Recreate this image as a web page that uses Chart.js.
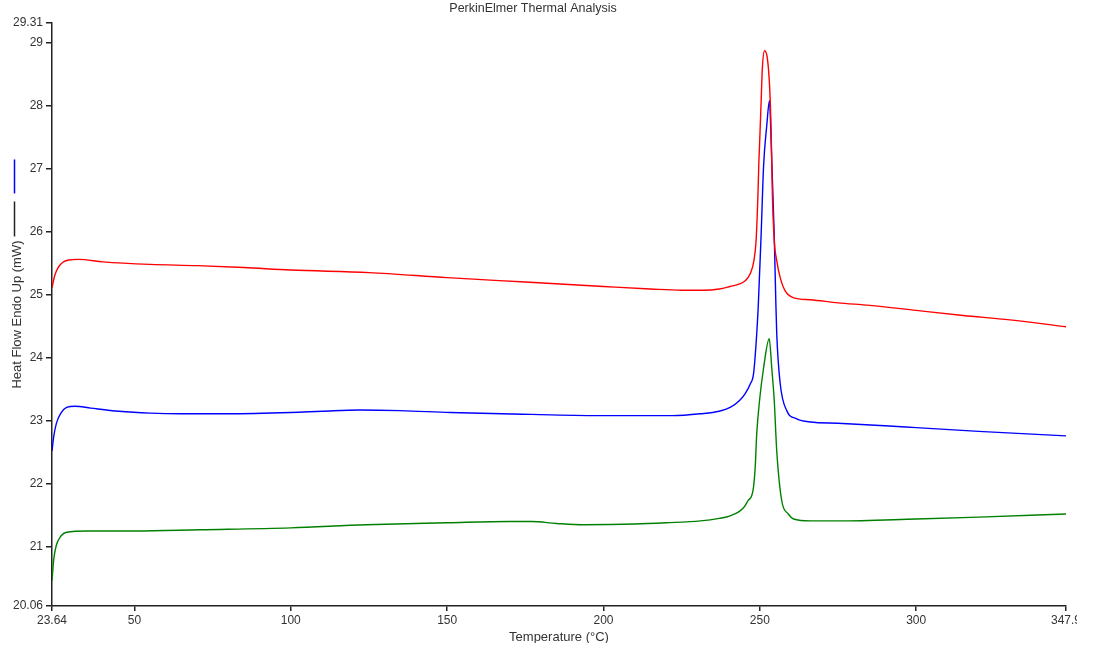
<!DOCTYPE html>
<html lang="en">
<head>
    <meta charset="UTF-8">
    <title>PerkinElmer Thermal Analysis</title>
    <script src="https://cdn.jsdelivr.net/npm/chart.js"></script>
    <style>
        body {
            margin: 0;
            background: #fff;
        }
        .clip {
            width: 1077px;
            height: 643px;
            overflow: hidden;
        }
    </style>
</head>
<body>
    <div class="clip">
        <canvas id="dsc" width="1093" height="649"></canvas>
    </div>

    <script>
        const redTemp = [23.64, 24.5, 25.5, 27, 29, 32, 40, 55, 70, 85, 100, 125, 150, 175, 200, 215, 225, 232, 237, 240.5, 243.5, 245.3, 246.9, 248.1, 248.8, 249.4, 249.7, 249.9, 250.4, 250.8, 251.5, 252.4, 253.1, 253.5, 253.8, 254.0, 254.6, 255.4, 256.5, 258.1, 260.8, 266.1, 275, 285, 300, 315, 330, 347.9];
        const redFlow = [25.11, 25.30, 25.42, 25.51, 25.55, 25.56, 25.52, 25.48, 25.46, 25.43, 25.39, 25.35, 25.27, 25.20, 25.13, 25.09, 25.07, 25.07, 25.09, 25.13, 25.17, 25.22, 25.33, 25.54, 25.86, 26.60, 27.13, 27.37, 28.05, 28.59, 28.87, 28.75, 28.32, 27.79, 27.13, 26.60, 25.86, 25.54, 25.27, 25.06, 24.95, 24.92, 24.87, 24.83, 24.75, 24.67, 24.60, 24.49];

        const blueTemp = [23.64, 24.2, 25, 26.5, 28.3, 31, 36, 45, 55, 65, 80, 100, 110, 122, 135, 151, 177, 200, 222, 231, 237, 240.5, 243.5, 245.3, 246.9, 248.0, 249.0, 249.5, 250.4, 251.2, 252.2, 253.1, 253.4, 253.8, 254.6, 255.1, 255.4, 256.5, 258.6, 261.8, 266.1, 275, 290, 300, 320, 347.9];
        const blueFlow = [22.52, 22.75, 22.95, 23.12, 23.21, 23.23, 23.20, 23.15, 23.12, 23.11, 23.11, 23.13, 23.15, 23.17, 23.16, 23.13, 23.10, 23.08, 23.08, 23.11, 23.15, 23.21, 23.32, 23.43, 23.58, 23.75, 24.38, 24.83, 25.94, 27.05, 27.68, 28.08, 27.76, 27.13, 25.94, 24.90, 24.38, 23.59, 23.16, 23.03, 22.98, 22.96, 22.92, 22.89, 22.83, 22.76];

        const greenTemp = [23.64, 24.2, 25, 26.5, 28.3, 35, 50, 71, 100, 124, 150, 170, 177, 185, 193.5, 210, 220, 231, 237, 240.5, 244.8, 246.2, 247.8, 248.5, 249.0, 249.9, 251.2, 253.0, 253.8, 254.6, 255.4, 257.0, 259.1, 260.8, 266.1, 275, 300, 320, 347.9];
        const greenFlow = [20.46, 20.80, 21.02, 21.17, 21.23, 21.25, 21.25, 21.27, 21.30, 21.35, 21.38, 21.40, 21.40, 21.37, 21.35, 21.36, 21.38, 21.41, 21.45, 21.49, 21.62, 21.73, 21.89, 22.25, 22.79, 23.32, 23.84, 24.30, 23.84, 23.32, 22.52, 21.73, 21.52, 21.44, 21.41, 21.41, 21.44, 21.47, 21.52];

        const xTicks = [23.64, 50, 100, 150, 200, 250, 300, 347.9];
        const yTicks = [20.06, 21, 22, 23, 24, 25, 26, 27, 28, 29, 29.31];

        const fontFamily = '"Liberation Sans", Arial, sans-serif';
        const inkColor = '#333';
        const titleSize = 13;

        function toPoints(xs, ys) {
            return xs.map((x, i) => ({ x: x, y: ys[i] }));
        }

        // little legend strokes drawn beside the y axis title, like the instrument export
        const axisMarks = {
            id: 'axisMarks',
            afterDraw(chart) {
                const { ctx, chartArea } = chart;
                const yScale = chart.scales.y;
                ctx.save();
                ctx.font = titleSize + 'px ' + fontFamily;
                const half = ctx.measureText(yScale.options.title.text).width / 2;
                const top = (chartArea.top + chartArea.bottom) / 2 - half;
                const x = yScale.left + 14.5;
                ctx.lineWidth = 1.5;
                ctx.strokeStyle = '#222';
                ctx.beginPath();
                ctx.moveTo(x, top - 4);
                ctx.lineTo(x, top - 39);
                ctx.stroke();
                ctx.strokeStyle = '#0000ff';
                ctx.beginPath();
                ctx.moveTo(x, top - 47);
                ctx.lineTo(x, top - 81);
                ctx.stroke();
                ctx.restore();
            }
        };

        const ctx = document.getElementById('dsc').getContext('2d');
        new Chart(ctx, {
            type: 'line',
            data: {
                datasets: [{
                    data: toPoints(redTemp, redFlow),
                    borderColor: '#ff0000',
                    borderWidth: 1.4,
                    pointRadius: 0,
                    cubicInterpolationMode: 'monotone'
                }, {
                    data: toPoints(blueTemp, blueFlow),
                    borderColor: '#0000ff',
                    borderWidth: 1.4,
                    pointRadius: 0,
                    cubicInterpolationMode: 'monotone'
                }, {
                    data: toPoints(greenTemp, greenFlow),
                    borderColor: '#008000',
                    borderWidth: 1.4,
                    pointRadius: 0,
                    cubicInterpolationMode: 'monotone'
                }]
            },
            options: {
                responsive: false,
                animation: false,
                layout: {
                    padding: { left: 0, right: 27, top: 0, bottom: 0 }
                },
                plugins: {
                    legend: { display: false },
                    tooltip: { enabled: false },
                    title: {
                        display: true,
                        text: 'PerkinElmer Thermal Analysis',
                        color: inkColor,
                        font: { family: fontFamily, size: 12.5, weight: 'normal' },
                        padding: { top: 1, bottom: 7 }
                    }
                },
                scales: {
                    x: {
                        type: 'linear',
                        min: xTicks[0],
                        max: xTicks[xTicks.length - 1],
                        afterBuildTicks: (scale) => {
                            scale.ticks = xTicks.map(v => ({ value: v }));
                        },
                        afterFit: (scale) => {
                            scale.height = 43;
                        },
                        ticks: {
                            autoSkip: false,
                            maxRotation: 0,
                            padding: 2,
                            color: inkColor,
                            font: { family: fontFamily, size: 12 },
                            callback: (v) => String(v)
                        },
                        grid: {
                            drawOnChartArea: false,
                            drawTicks: true,
                            tickLength: 5,
                            color: '#222',
                            lineWidth: 1.5
                        },
                        border: { display: true, color: '#222', width: 1.5 },
                        title: {
                            display: true,
                            text: 'Temperature (°C)',
                            color: inkColor,
                            font: { family: fontFamily, size: titleSize },
                            padding: { top: 0, bottom: 4 }
                        }
                    },
                    y: {
                        min: yTicks[0],
                        max: yTicks[yTicks.length - 1],
                        afterBuildTicks: (scale) => {
                            scale.ticks = yTicks.map(v => ({ value: v }));
                        },
                        afterFit: (scale) => {
                            scale.width = 52;
                        },
                        ticks: {
                            autoSkip: false,
                            padding: 3,
                            color: inkColor,
                            font: { family: fontFamily, size: 12 },
                            callback: (v) => String(v)
                        },
                        grid: {
                            drawOnChartArea: false,
                            drawTicks: true,
                            tickLength: 6,
                            color: '#222',
                            lineWidth: 1.5
                        },
                        border: { display: true, color: '#222', width: 1.5 },
                        title: {
                            display: true,
                            text: 'Heat Flow Endo Up (mW)',
                            color: inkColor,
                            font: { family: fontFamily, size: titleSize },
                            padding: { top: 10, bottom: 0 }
                        }
                    }
                }
            },
            plugins: [axisMarks]
        });
    </script>
</body>
</html>
